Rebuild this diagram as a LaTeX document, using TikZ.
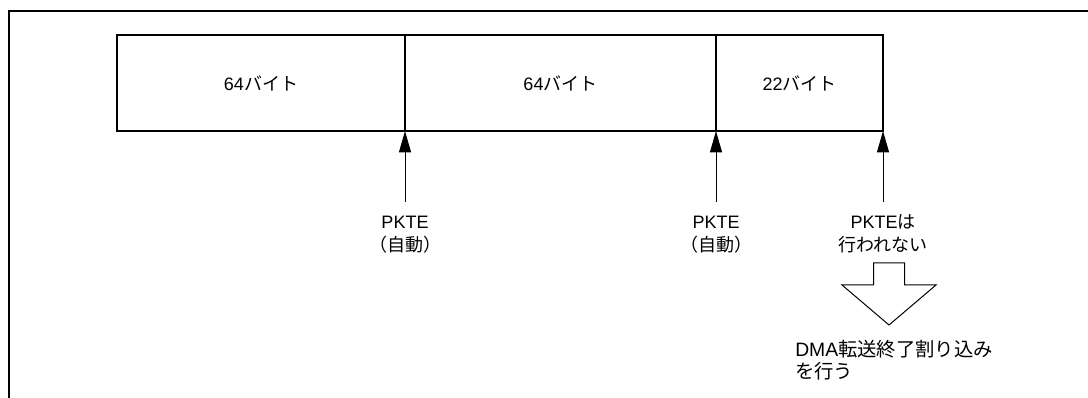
\documentclass[tikz,border=0pt]{standalone}
\usepackage{fontspec}
\setmainfont{Liberation Sans}
\newfontfamily\jpfont{Noto Sans CJK JP}
\usetikzlibrary{arrows.meta,positioning}

\begin{document}
\begin{tikzpicture}[
  x=0.75pt, y=-0.75pt,
  font=\fontsize{13.5}{17.25}\selectfont,
  cell/.style={rectangle, draw, line width=1.5pt, minimum height=72pt, inner sep=0pt, outer sep=0pt, align=center},
  lbl/.style={inner sep=0pt, align=center},
  arrow/.style={-{Triangle[length=16pt,width=9pt]}, line width=0.75pt}
]
  \useasboundingbox (0,0) rectangle (1088,398);
  \draw[line width=1.5pt] (1088,11) -- (8.5,11) -- (8.5,398);

  % packet split into cells
  \node[cell, minimum width=216pt, anchor=north west] (c1) at (117,35) {64{\jpfont バイト}};
  \node[cell, minimum width=233.25pt, right=0pt of c1] (c2) {64{\jpfont バイト}};
  \node[cell, minimum width=125.25pt, right=0pt of c2] (c3) {22{\jpfont バイト}};

  % PKTE markers
  \coordinate[below=53.25pt of c1.south east] (t1);
  \coordinate[below=53.25pt of c2.south east] (t2);
  \coordinate[below=53.25pt of c3.south east] (t3);
  \node[lbl, below=37.5pt of t1, anchor=base] (p1) {PKTE\\{\jpfont （自動）}};
  \node[lbl, below=37.5pt of t2, anchor=base] (p2) {PKTE\\{\jpfont （自動）}};
  \node[lbl, below=37.5pt of t3, anchor=base] (p3) {PKTE{\jpfont は}\\{\jpfont 行われない}};
  \draw[arrow] (t1) -- (c1.south east);
  \draw[arrow] (t2) -- (c2.south east);
  \draw[arrow] (t3) -- (c3.south east);

  % hollow arrow and result
  \coordinate (h) at (889,263);
  \draw[line width=0.75pt] (h) ++(-15.5,0) -- ++(31,0) -- ++(0,22) -- ++(31.5,0)
    -- ++(-47,40) -- ++(-47,-40) -- ++(31.5,0) -- cycle;
  \node[lbl, align=left, anchor=base west, font=\fontsize{14.5}{16.5}\selectfont] (dma) at (795,379)
    {DMA{\jpfont 転送終了割り込み}\\{\jpfont を行う}};
\end{tikzpicture}
\end{document}
